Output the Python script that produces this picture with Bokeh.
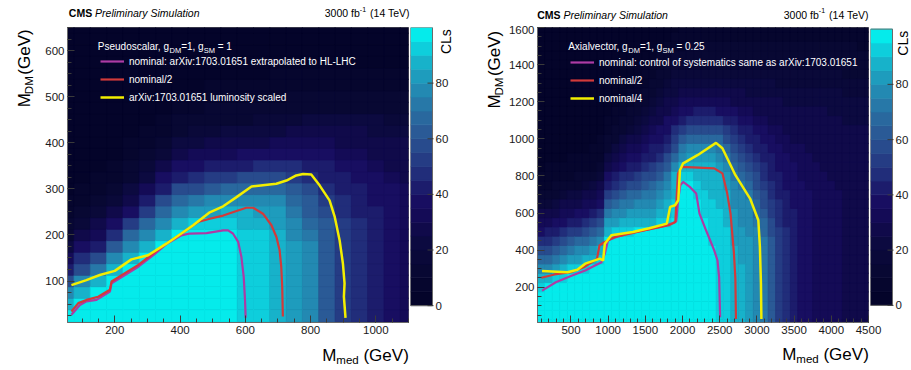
import math
from bokeh.plotting import figure
from bokeh.layouts import row, column
from bokeh.models import (ColumnDataSource, LinearColorMapper, FixedTicker,
                          Legend, LegendItem, Range1d)
from bokeh.core.properties import value
from bokeh.transform import transform
from bokeh.embed import file_html
from bokeh.resources import INLINE

FONT = "Liberation Sans"

# ---------------- colour scale (CLs, 20 steps of 5) ----------------
PALETTE = ["#04042a", "#06062e", "#080833", "#0a0939", "#0c0a40", "#100a4a", "#140b56",
           "#180e61", "#1c1c6c", "#212d7a", "#253c84", "#284b8d", "#2a5a96", "#29689e",
           "#2778a8", "#2389b2", "#1e9cbd", "#17b2ca", "#0ecedc", "#05ebeb"]
cl_levels = [0, 5, 10, 15, 20, 25, 30, 35, 40, 45, 50, 55, 60, 65, 70, 75, 80, 85, 90, 95]
cb_ticks = [0, 20, 40, 60, 80]

# ---------------- left panel: pseudoscalar ----------------
mmed_left = [50, 100, 150, 200, 250, 300, 350, 400, 450, 500, 550, 600, 650, 700, 750,
             800, 850, 900, 950, 1000, 1050, 1100]
mdm_left = [0, 25, 50, 75, 100, 125, 150, 175, 200, 225, 250, 275, 300, 325, 350, 375,
            400, 425, 450, 475, 500, 525, 550, 575, 600, 625, 650]
# CLs per M_med column, from M_DM = 0 upwards
cls_left = [
    [98, 96, 87, 75, 57, 43, 33, 23, 15, 11, 7, 5, 4, 3, 3, 3, 3, 3, 3, 3, 3, 3, 3, 3, 3, 3, 3],
    [98, 98, 96, 89, 78, 60, 45, 35, 25, 17, 12, 7, 5, 4, 3, 3, 3, 3, 3, 3, 3, 3, 3, 3, 3, 3, 3],
    [98, 98, 98, 95, 85, 72, 57, 43, 33, 25, 17, 12, 7, 5, 4, 3, 3, 3, 3, 3, 3, 3, 3, 3, 3, 3, 3],
    [98, 98, 98, 98, 96, 89, 78, 63, 48, 37, 27, 18, 12, 8, 5, 4, 3, 3, 3, 3, 3, 3, 3, 3, 3, 3, 3],
    [98, 98, 98, 98, 98, 96, 89, 79, 66, 51, 39, 30, 22, 14, 10, 7, 5, 4, 3, 3, 3, 3, 3, 3, 3, 3, 3],
    [98, 98, 98, 98, 98, 98, 96, 89, 79, 67, 54, 41, 32, 24, 16, 12, 8, 6, 4, 3, 3, 3, 3, 3, 3, 3, 3],
    [98, 98, 98, 98, 98, 98, 98, 96, 89, 79, 67, 55, 43, 35, 27, 19, 13, 9, 6, 4, 3, 3, 3, 3, 3, 3, 3],
    [98, 98, 98, 98, 98, 98, 98, 98, 96, 88, 79, 67, 55, 43, 35, 28, 21, 14, 10, 7, 5, 4, 3, 3, 3, 3, 3],
    [98, 98, 98, 98, 98, 98, 98, 98, 96, 92, 83, 72, 60, 48, 38, 31, 24, 16, 12, 8, 6, 4, 3, 3, 3, 3, 3],
    [98, 98, 98, 98, 98, 98, 98, 98, 96, 92, 83, 75, 63, 50, 40, 32, 25, 19, 13, 10, 7, 5, 4, 3, 3, 3, 3],
    [98, 98, 98, 98, 98, 98, 98, 98, 96, 91, 85, 77, 65, 53, 42, 34, 26, 20, 14, 10, 7, 5, 4, 3, 3, 3, 3],
    [93, 93, 93, 93, 93, 93, 93, 92, 91, 89, 86, 78, 68, 55, 43, 35, 28, 21, 15, 11, 7, 5, 4, 3, 3, 3, 3],
    [92, 92, 92, 92, 92, 92, 92, 91, 90, 87, 84, 78, 69, 58, 45, 37, 29, 23, 16, 12, 8, 6, 4, 3, 3, 3, 3],
    [88, 88, 88, 88, 88, 88, 88, 88, 86, 83, 80, 75, 67, 58, 47, 38, 31, 24, 17, 13, 9, 7, 5, 4, 3, 3, 3],
    [82, 82, 82, 82, 82, 82, 82, 82, 79, 77, 73, 67, 61, 53, 45, 38, 31, 25, 19, 13, 10, 7, 5, 4, 3, 3, 3],
    [75, 75, 75, 75, 75, 75, 75, 75, 71, 68, 64, 61, 55, 49, 43, 37, 32, 26, 20, 14, 10, 7, 5, 4, 3, 3, 3],
    [64, 64, 64, 64, 64, 64, 64, 64, 64, 62, 58, 53, 49, 44, 40, 36, 31, 26, 20, 14, 11, 8, 6, 4, 3, 3, 3],
    [54, 54, 54, 54, 54, 54, 54, 54, 54, 52, 49, 47, 44, 41, 37, 34, 30, 26, 21, 15, 11, 8, 6, 4, 3, 3, 3],
    [46, 46, 46, 46, 46, 46, 46, 46, 46, 46, 44, 42, 40, 37, 35, 32, 28, 25, 20, 15, 11, 8, 6, 4, 3, 3, 3],
    [41, 41, 41, 41, 41, 41, 41, 41, 41, 41, 41, 39, 37, 35, 33, 30, 27, 24, 20, 15, 11, 8, 6, 4, 3, 3, 3],
    [37, 37, 37, 37, 37, 37, 37, 37, 37, 37, 37, 36, 35, 33, 30, 28, 26, 23, 18, 14, 11, 8, 6, 4, 3, 3, 3],
    [34, 34, 34, 34, 34, 34, 34, 34, 34, 34, 34, 33, 31, 30, 28, 27, 25, 21, 17, 14, 11, 8, 6, 4, 3, 3, 3],
]
ps_nominal_x = [67, 93, 113, 144, 185, 190, 231, 272, 318, 358, 404, 430, 481, 532, 547, 562, 578, 588, 595, 599, 601]
ps_nominal_y = [27, 48, 56, 59, 77, 95, 113, 131, 156, 180, 199, 203, 204, 210, 210, 203, 185, 152, 109, 59, 20]
ps_half_x = [67, 88, 113, 149, 185, 190, 231, 272, 318, 358, 404, 455, 491, 532, 573, 603, 624, 654, 680, 695, 705, 710, 713, 715]
ps_half_y = [34, 52, 59, 66, 81, 99, 117, 135, 160, 181, 203, 228, 235, 242, 252, 259, 259, 246, 221, 196, 167, 131, 88, 23]
ps_lumi_x = [67, 113, 154, 200, 251, 302, 358, 404, 440, 491, 532, 573, 619, 654, 695, 726, 756, 777, 802, 828, 858, 874, 889, 899, 904, 902, 907]
ps_lumi_y = [91, 102, 113, 122, 147, 156, 181, 203, 221, 249, 262, 282, 305, 308, 311, 318, 329, 332, 331, 307, 275, 239, 188, 138, 95, 66, 20]
ps_labels = ["nominal: arXiv:1703.01651 extrapolated to HL-LHC", "nominal/2",
             "arXiv:1703.01651 luminosity scaled"]

# ---------------- right panel: axial-vector ----------------
mmed_right = [100, 200, 300, 400, 500, 600, 700, 800, 900, 1000, 1100, 1200, 1300, 1400, 1500,
              1600, 1700, 1800, 1900, 2000, 2100, 2200, 2300, 2400, 2500, 2600, 2700, 2800,
              2900, 3000, 3100, 3200, 3300, 3400, 3500, 3600, 3700, 3800, 3900, 4000, 4100,
              4200, 4300, 4400, 4500]
mdm_right = [0, 50, 100, 150, 200, 250, 300, 350, 400, 450, 500, 550, 600, 650, 700, 750, 800,
             850, 900, 950, 1000, 1050, 1100, 1150, 1200, 1250, 1300, 1350, 1400, 1450, 1500,
             1550, 1600]
cls_right = [
    [98, 98, 98, 97, 92, 85, 76, 66, 56, 45, 38, 31, 25, 17, 12, 8, 6, 4, 3, 3, 3, 3, 3, 3, 3, 3, 3, 3, 3, 3, 3, 3, 3],
    [98, 98, 98, 98, 95, 87, 79, 69, 59, 48, 40, 33, 27, 19, 13, 9, 7, 5, 4, 3, 3, 3, 3, 3, 3, 3, 3, 3, 3, 3, 3, 3, 3],
    [98, 98, 98, 98, 96, 91, 83, 74, 64, 54, 43, 36, 29, 22, 15, 10, 7, 5, 4, 3, 3, 3, 3, 3, 3, 3, 3, 3, 3, 3, 3, 3, 3],
    [98, 98, 98, 98, 97, 94, 87, 78, 68, 58, 46, 38, 31, 25, 17, 12, 8, 6, 4, 3, 3, 3, 3, 3, 3, 3, 3, 3, 3, 3, 3, 3, 3],
    [98, 98, 98, 98, 98, 96, 90, 81, 72, 62, 51, 41, 34, 28, 20, 13, 9, 7, 5, 4, 3, 3, 3, 3, 3, 3, 3, 3, 3, 3, 3, 3, 3],
    [98, 98, 98, 98, 98, 96, 91, 84, 75, 65, 54, 43, 36, 29, 22, 15, 10, 7, 5, 4, 3, 3, 3, 3, 3, 3, 3, 3, 3, 3, 3, 3, 3],
    [98, 98, 98, 98, 98, 97, 94, 86, 78, 68, 58, 46, 38, 31, 25, 17, 11, 8, 6, 4, 3, 3, 3, 3, 3, 3, 3, 3, 3, 3, 3, 3, 3],
    [98, 98, 98, 98, 98, 98, 96, 89, 81, 72, 62, 51, 41, 34, 28, 20, 13, 9, 7, 5, 4, 3, 3, 3, 3, 3, 3, 3, 3, 3, 3, 3, 3],
    [98, 98, 98, 98, 98, 98, 97, 93, 86, 78, 69, 58, 47, 39, 33, 26, 18, 12, 8, 6, 5, 4, 3, 3, 3, 3, 3, 3, 3, 3, 3, 3, 3],
    [98, 98, 98, 98, 98, 98, 98, 98, 98, 95, 88, 80, 71, 62, 51, 42, 35, 29, 22, 15, 11, 7, 5, 4, 3, 3, 3, 3, 3, 3, 3, 3, 3],
    [98, 98, 98, 98, 98, 98, 98, 98, 98, 96, 91, 83, 75, 67, 58, 49, 41, 34, 28, 21, 15, 11, 7, 5, 4, 3, 3, 3, 3, 3, 3, 3, 3],
    [98, 98, 98, 98, 98, 98, 98, 98, 98, 97, 92, 85, 78, 70, 62, 53, 45, 39, 32, 26, 21, 15, 11, 7, 5, 4, 3, 3, 3, 3, 3, 3, 3],
    [98, 98, 98, 98, 98, 98, 98, 98, 98, 97, 94, 86, 80, 73, 65, 57, 48, 42, 36, 31, 25, 19, 14, 10, 7, 5, 4, 3, 3, 3, 3, 3, 3],
    [98, 98, 98, 98, 98, 98, 98, 98, 98, 98, 95, 88, 82, 76, 68, 60, 52, 44, 39, 34, 29, 24, 18, 14, 10, 7, 5, 4, 3, 3, 3, 3, 3],
    [98, 98, 98, 98, 98, 98, 98, 98, 98, 98, 96, 89, 82, 77, 70, 63, 55, 47, 41, 37, 32, 28, 23, 17, 13, 10, 7, 5, 4, 3, 3, 3, 3],
    [98, 98, 98, 98, 98, 98, 98, 98, 98, 98, 96, 89, 83, 79, 74, 66, 59, 51, 44, 40, 36, 31, 27, 22, 17, 13, 10, 7, 6, 4, 3, 3, 3],
    [98, 98, 98, 98, 98, 98, 98, 98, 98, 98, 97, 91, 85, 80, 76, 70, 63, 56, 49, 43, 39, 35, 30, 26, 21, 17, 13, 10, 8, 6, 4, 3, 3],
    [98, 98, 98, 98, 98, 98, 98, 98, 98, 98, 97, 94, 89, 85, 80, 76, 70, 63, 56, 49, 43, 39, 35, 30, 25, 21, 17, 13, 10, 8, 6, 4, 3],
    [98, 98, 98, 98, 98, 98, 98, 98, 98, 98, 98, 96, 93, 91, 89, 87, 85, 78, 69, 60, 53, 45, 39, 34, 29, 24, 20, 16, 13, 10, 7, 5, 4],
    [98, 98, 98, 98, 98, 98, 98, 98, 98, 98, 98, 98, 98, 98, 98, 96, 91, 86, 79, 71, 62, 53, 44, 38, 32, 26, 22, 18, 14, 12, 9, 7, 5],
    [98, 98, 98, 98, 98, 98, 98, 98, 98, 98, 98, 98, 98, 98, 98, 95, 91, 87, 81, 75, 66, 56, 47, 39, 33, 27, 23, 19, 15, 13, 10, 8, 6],
    [98, 98, 98, 98, 98, 98, 98, 98, 98, 98, 98, 98, 98, 95, 93, 91, 88, 86, 82, 76, 68, 58, 49, 41, 34, 28, 23, 19, 15, 13, 11, 8, 6],
    [98, 98, 98, 98, 98, 98, 98, 98, 98, 98, 98, 95, 93, 92, 90, 89, 87, 86, 82, 76, 68, 60, 49, 41, 34, 28, 23, 19, 15, 13, 11, 8, 6],
    [98, 98, 98, 98, 98, 98, 98, 98, 96, 94, 93, 92, 91, 90, 89, 88, 86, 85, 81, 76, 68, 60, 49, 41, 34, 28, 23, 19, 15, 13, 11, 8, 6],
    [93, 93, 93, 93, 93, 93, 93, 93, 92, 92, 91, 91, 90, 89, 88, 86, 85, 81, 78, 74, 66, 58, 47, 39, 33, 28, 23, 19, 15, 13, 11, 8, 6],
    [90, 90, 90, 90, 90, 90, 90, 90, 90, 90, 90, 89, 88, 87, 86, 83, 80, 77, 73, 66, 60, 52, 44, 38, 32, 27, 23, 19, 15, 13, 11, 8, 6],
    [88, 88, 88, 88, 88, 88, 88, 86, 85, 84, 82, 81, 80, 79, 77, 76, 74, 69, 64, 59, 53, 46, 41, 35, 30, 26, 22, 19, 15, 13, 11, 8, 6],
    [85, 85, 85, 85, 85, 85, 85, 84, 83, 82, 80, 79, 78, 77, 76, 72, 68, 63, 58, 53, 47, 42, 38, 33, 29, 25, 22, 18, 15, 13, 11, 8, 6],
    [82, 82, 82, 82, 82, 82, 82, 82, 81, 80, 79, 77, 76, 75, 71, 66, 62, 57, 52, 48, 43, 40, 36, 32, 28, 24, 21, 18, 15, 13, 11, 8, 6],
    [78, 78, 78, 78, 78, 78, 78, 78, 77, 76, 75, 72, 69, 66, 62, 59, 55, 51, 47, 43, 40, 37, 34, 30, 27, 24, 21, 18, 15, 13, 10, 8, 6],
    [72, 72, 72, 72, 72, 72, 72, 72, 72, 70, 67, 65, 62, 60, 56, 53, 49, 46, 43, 40, 38, 35, 32, 29, 26, 23, 20, 17, 15, 12, 10, 8, 6],
    [62, 62, 62, 62, 62, 62, 62, 62, 62, 61, 59, 56, 54, 51, 49, 46, 44, 42, 40, 38, 35, 33, 30, 28, 25, 23, 20, 17, 15, 12, 10, 8, 6],
    [52, 52, 52, 52, 52, 52, 52, 52, 52, 52, 50, 49, 47, 46, 44, 43, 41, 39, 37, 35, 33, 31, 29, 27, 25, 22, 19, 17, 15, 12, 10, 8, 6],
    [45, 45, 45, 45, 45, 45, 45, 45, 45, 45, 45, 44, 42, 41, 40, 39, 37, 36, 35, 33, 32, 30, 28, 26, 24, 22, 19, 16, 14, 12, 10, 8, 6],
    [41, 41, 41, 41, 41, 41, 41, 41, 41, 41, 41, 41, 40, 39, 38, 37, 36, 35, 33, 32, 30, 29, 27, 26, 24, 21, 19, 16, 14, 12, 10, 8, 6],
    [38, 38, 38, 38, 38, 38, 38, 38, 38, 38, 38, 38, 38, 37, 36, 35, 34, 33, 32, 31, 29, 28, 27, 25, 24, 21, 19, 16, 14, 12, 10, 8, 6],
    [36, 36, 36, 36, 36, 36, 36, 36, 36, 36, 36, 36, 36, 35, 35, 34, 33, 32, 31, 30, 29, 28, 26, 25, 23, 21, 19, 16, 14, 12, 10, 8, 6],
    [34, 34, 34, 34, 34, 34, 34, 34, 34, 34, 34, 34, 34, 34, 34, 33, 32, 31, 30, 29, 28, 27, 26, 25, 23, 21, 19, 16, 14, 12, 10, 8, 6],
    [33, 33, 33, 33, 33, 33, 33, 33, 33, 33, 33, 33, 33, 33, 33, 32, 31, 30, 29, 28, 28, 27, 26, 25, 23, 21, 19, 16, 14, 12, 10, 8, 6],
    [32, 32, 32, 32, 32, 32, 32, 32, 32, 32, 32, 32, 32, 32, 32, 31, 30, 30, 29, 28, 27, 26, 25, 24, 22, 20, 18, 16, 14, 12, 10, 8, 6],
    [31, 31, 31, 31, 31, 31, 31, 31, 31, 31, 31, 31, 31, 31, 31, 30, 30, 29, 28, 27, 27, 26, 25, 24, 22, 20, 18, 16, 14, 12, 10, 8, 6],
    [30, 30, 30, 30, 30, 30, 30, 30, 30, 30, 30, 30, 30, 30, 30, 29, 29, 28, 28, 27, 26, 25, 24, 23, 21, 19, 17, 15, 13, 11, 10, 8, 6],
    [30, 30, 30, 30, 30, 30, 30, 30, 30, 30, 30, 30, 30, 30, 30, 29, 29, 28, 28, 27, 26, 25, 24, 23, 21, 19, 17, 15, 13, 11, 10, 8, 6],
    [29, 29, 29, 29, 29, 29, 29, 29, 29, 29, 29, 29, 29, 29, 29, 29, 28, 28, 27, 26, 26, 25, 24, 23, 21, 19, 17, 15, 13, 11, 9, 7, 6],
    [29, 29, 29, 29, 29, 29, 29, 29, 29, 29, 29, 29, 29, 29, 29, 29, 28, 28, 27, 26, 26, 25, 24, 23, 21, 19, 17, 15, 13, 11, 9, 7, 6],
]
av_nominal_x = [111, 296, 516, 691, 823, 911, 955, 998, 1175, 1438, 1702, 1877, 1915, 1940, 1970, 2008, 2097, 2184, 2228, 2316, 2426, 2470, 2492, 2505]
av_nominal_y = [182, 227, 263, 290, 317, 335, 381, 453, 480, 503, 525, 546, 555, 669, 750, 768, 741, 705, 597, 507, 399, 344, 254, 38]
av_half_x = [102, 278, 498, 674, 849, 884, 937, 1086, 1200, 1464, 1815, 1903, 1938, 1991, 2426, 2536, 2601, 2645, 2690, 2710, 2718]
av_half_y = [251, 269, 281, 308, 353, 426, 440, 471, 480, 505, 534, 552, 813, 849, 841, 814, 705, 597, 389, 250, 29]
av_quarter_x = [111, 454, 586, 691, 889, 932, 955, 1043, 1332, 1552, 1789, 1833, 1899, 1943, 1965, 2008, 2206, 2450, 2536, 2711, 2908, 3019, 3040, 3054, 3060]
av_quarter_y = [287, 281, 294, 327, 354, 344, 435, 480, 498, 518, 543, 633, 642, 669, 831, 868, 913, 978, 949, 804, 678, 561, 417, 218, 29]
av_labels = ["nominal: control of systematics same as arXiv:1703.01651", "nominal/2", "nominal/4"]

MAGENTA, RED, YELLOW = "#ad3ba5", "#d23a3a", "#f2ee00"
mapper = LinearColorMapper(palette=PALETTE, low=0, high=100)

# Arial / Liberation Sans advance widths (1/1000 em), used to place sub/superscripts
ADV = {' ': 278, '(': 333, ')': 333, ',': 278, '-': 333, '.': 278, '/': 278, ':': 278, '=': 584,
       'A': 667, 'C': 722, 'D': 722, 'G': 778, 'M': 833, 'P': 667, 'S': 667, 'T': 611, 'V': 667,
       'a': 556, 'b': 556, 'c': 500, 'd': 556, 'e': 556, 'f': 278, 'g': 556, 'i': 222, 'l': 222,
       'm': 833, 'n': 556, 'o': 556, 'r': 333, 's': 500, 't': 278, 'u': 556, 'v': 500, 'x': 500,
       'y': 500}


def tw(s, size):
    return sum(ADV.get(c, 556) for c in s) * size / 1000.0


def txt(f, x, y, s, size, align="left", angle=0.0, style="normal", color="black",
        baseline="alphabetic", xo=0.0, yo=0.0):
    # x_offset / y_offset are screen pixels (y_offset > 0 moves down)
    f.text(x=[x], y=[y], text=[s], text_font=value(FONT), text_font_size=value(f"{size}px"),
           text_font_style=style, text_color=color, text_align=align, text_baseline=baseline,
           angle=angle, x_offset=xo, y_offset=yo)


def rich(f, x, y, pieces, align="left", color="black", xo=0.0, yo=0.0):
    """pieces: (text, size, baseline shift in px (up > 0), style); horizontal text"""
    cur = xo
    seq = pieces if align == "left" else list(reversed(pieces))
    for t, size, shift, style in seq:
        s = t.lstrip(" ")
        lead = tw(t[:len(t) - len(s)], size)
        if align == "left":
            txt(f, x, y, s, size, "left", 0.0, style, color, xo=cur + lead, yo=yo - shift)
            cur += tw(t, size)
        else:
            txt(f, x, y, s, size, "right", 0.0, style, color, xo=cur, yo=yo - shift)
            cur -= tw(t, size)


def rich_vertical(f, x, y_top, pieces, color="black"):
    """text rotated 90 deg (reading upwards), its end placed at y_top (pixel-unit figure)"""
    cur = y_top
    for t, size, shift, style in reversed(pieces):
        txt(f, x - shift, cur, t.lstrip(" "), size, "right", math.pi / 2, style, color)
        cur -= tw(t, size)


def text_fig(width, height):
    f = figure(width=width, height=height, x_range=Range1d(0, width), y_range=Range1d(0, height),
               x_axis_location=None, y_axis_location=None, toolbar_location=None,
               output_backend="svg", min_border=0)
    f.grid.visible = False
    f.outline_line_color = None
    f.background_fill_color = "white"
    f.border_fill_color = "white"
    return f


def make_panel(width, border_left, border_right, border_top, xr, yr, xs, ys, cols, dx, dy,
               xmaj, xmin, ymaj, ymin):
    p = figure(width=width, height=315, x_range=Range1d(*xr), y_range=Range1d(*yr),
               output_backend="svg", toolbar_location=None,
               min_border_left=border_left, min_border_right=border_right,
               min_border_top=border_top, min_border_bottom=18)
    p.background_fill_color = PALETTE[0]
    p.border_fill_color = "white"
    p.outline_line_color = "#6a6a6a"
    p.grid.visible = False
    xx, yy, vv = [], [], []
    for x, col in zip(xs, cols):
        for y, v in zip(ys, col):
            xx.append(x)
            yy.append(y)
            vv.append(v)
    src = ColumnDataSource(dict(x=xx, y=yy, v=vv))
    p.rect(x="x", y="y", width=dx, height=dy, source=src,
           fill_color=transform("v", mapper), line_color=transform("v", mapper), line_width=0.7)
    p.xaxis.ticker = FixedTicker(ticks=xmaj, minor_ticks=xmin)
    p.yaxis.ticker = FixedTicker(ticks=ymaj, minor_ticks=ymin)
    for ax in (p.xaxis[0], p.yaxis[0]):
        ax.major_tick_in = 7
        ax.major_tick_out = 0
        ax.minor_tick_in = 4
        ax.minor_tick_out = 0
        ax.major_tick_line_color = "#3a3a3a"
        ax.minor_tick_line_color = "#3a3a3a"
        ax.axis_line_color = "#6a6a6a"
        ax.major_label_text_font = FONT
        ax.major_label_text_font_size = "11.5px"
        ax.major_label_text_color = "#1a1a1a"
    p.xaxis.major_label_standoff = 3
    p.yaxis.major_label_standoff = 3
    return p


def make_cbar(width, yr, cls_x, **kw):
    w = width / 22.0  # the bar is 22 px wide; x measured in bar widths
    cb = figure(width=width, height=315, x_range=Range1d(0, w), y_range=Range1d(*yr),
                x_axis_location=None, y_axis_location=None, output_backend="svg",
                toolbar_location=None, min_border=0, **kw)
    cb.grid.visible = False
    cb.outline_line_color = None
    cb.background_fill_alpha = 0
    cb.border_fill_alpha = 0
    src = ColumnDataSource(dict(y=[l + 2.5 for l in cl_levels], v=[l + 2.5 for l in cl_levels]))
    cb.rect(x=0.5, y="y", width=1, height=5, source=src,
            fill_color=transform("v", mapper), line_color=transform("v", mapper), line_width=0.7)
    cb.rect(x=[0.5], y=[50], width=1, height=100, fill_color=None, line_color="#6a6a6a",
            line_width=1)
    cb.segment(x0=[1 - 5 / 22.0 for t in cb_ticks], y0=cb_ticks,
               x1=[1 + 1 / 22.0 for t in cb_ticks], y1=cb_ticks, line_color="#3a3a3a", line_width=1)
    for t in cb_ticks:
        txt(cb, 1 + 3 / 22.0, t, str(t), 11.5, baseline="middle", color="#1a1a1a")
    txt(cb, cls_x / 22.0, 99.4, "CLs", 14, align="right", angle=math.pi / 2)
    return cb


def add_contours(p, curves, labels, loc):
    items = []
    for (xs, ys, col, lw), lab in zip(curves, labels):
        r = p.line(xs, ys, line_color=col, line_width=lw)
        items.append(LegendItem(label=value(lab), renderers=[r]))
    leg = Legend(items=items, location=loc, padding=0, spacing=2, margin=0,
                 glyph_width=24, glyph_height=16, label_height=16, label_standoff=5,
                 label_text_font=FONT, label_text_font_size="10px", label_text_color="white",
                 background_fill_alpha=0, border_line_alpha=0)
    p.add_layout(leg)


TITLE_M = [("M", 17, 0, "normal"), ("med", 11.5, -4, "normal"), (" (GeV)", 17, 0, "normal")]
TITLE_DM = [("M", 17, 0, "normal"), ("DM", 11.5, -4, "normal"), (" (GeV)", 17, 0, "normal")]
LUMI = [("3000 fb", 10.5, 0, "normal"), ("-1", 7, 4, "normal"), (" (14 TeV)", 10.5, 0, "normal")]

# ---------------- top strip: CMS labels ----------------
top = text_fig(911, 25)
for x_cms, x_end, base in ((68.3, 409.3, 12.3), (536.7, 868.3, 11.0)):
    txt(top, x_cms, base, "CMS", 10.5, style="bold")
    txt(top, x_cms + tw("CMS ", 10.5), base, "Preliminary Simulation", 10.5, style="italic")
    rich(top, x_end, base, LUMI, "right")

# ---------------- bottom strip: x-axis titles ----------------
bottom = text_fig(911, 30)
rich(bottom, 408.3, 15, TITLE_M, "right")
rich(bottom, 868.3, 16, TITLE_M, "right")

# ---------------- y-axis titles ----------------
yt1 = text_fig(35, 315)
rich_vertical(yt1, 24, 313, TITLE_DM)
yt2 = text_fig(50, 315)
rich_vertical(yt2, 39.3, 311.5, TITLE_DM)

# ---------------- left panel ----------------
p1 = make_panel(375, 32, 2, 0, (55, 1100), (10, 650), mmed_left, mdm_left, cls_left, 50, 25,
                [200, 400, 600, 800, 1000], list(range(50, 1101, 50)),
                [100, 200, 300, 400, 500, 600], list(range(25, 651, 25)))
add_contours(p1, [(ps_nominal_x, ps_nominal_y, MAGENTA, 2.2), (ps_half_x, ps_half_y, RED, 2.2),
                  (ps_lumi_x, ps_lumi_y, YELLOW, 2.5)], ps_labels, (33, 217))
rich(p1, 55, 650,
     [("Pseudoscalar, g", 10, 0, "normal"), ("DM", 7.5, -4, "normal"),
      ("=1, g", 10, 0, "normal"), ("SM", 7.5, -4, "normal"), (" = 1", 10, 0, "normal")],
     "left", "white", xo=30.3, yo=19)
cb1 = make_cbar(45, (-6.06, 100), 35)

# ---------------- right panel ----------------
# canvas reaches 15 px past the frame so the last tick label is not cut; the colour bar
# overlaps that (transparent) strip
p2 = make_panel(378, 30, 15, 2, (50, 4500), (10, 1600), mmed_right, mdm_right, cls_right, 100, 50,
                [500, 1000, 1500, 2000, 2500, 3000, 3500, 4000, 4500], list(range(100, 4501, 100)),
                [200, 400, 600, 800, 1000, 1200, 1400, 1600], list(range(50, 1601, 50)))
add_contours(p2, [(av_nominal_x, av_nominal_y, MAGENTA, 2.2), (av_half_x, av_half_y, RED, 2.2),
                  (av_quarter_x, av_quarter_y, YELLOW, 2.5)], av_labels, (33, 216))
rich(p2, 50, 1600,
     [("Axialvector, g", 10, 0, "normal"), ("DM", 7.5, -4, "normal"),
      ("=1, g", 10, 0, "normal"), ("SM", 7.5, -4, "normal"), (" = 0.25", 10, 0, "normal")],
     "left", "white", xo=30.7, yo=19)
cb2 = make_cbar(41, (-6.2, 100.58), 32.5, margin=(0, 0, 0, -13))

layout = column(top, row(yt1, p1, cb1, yt2, p2, cb2), bottom)
open("out.html", "w").write(file_html(layout, INLINE))
